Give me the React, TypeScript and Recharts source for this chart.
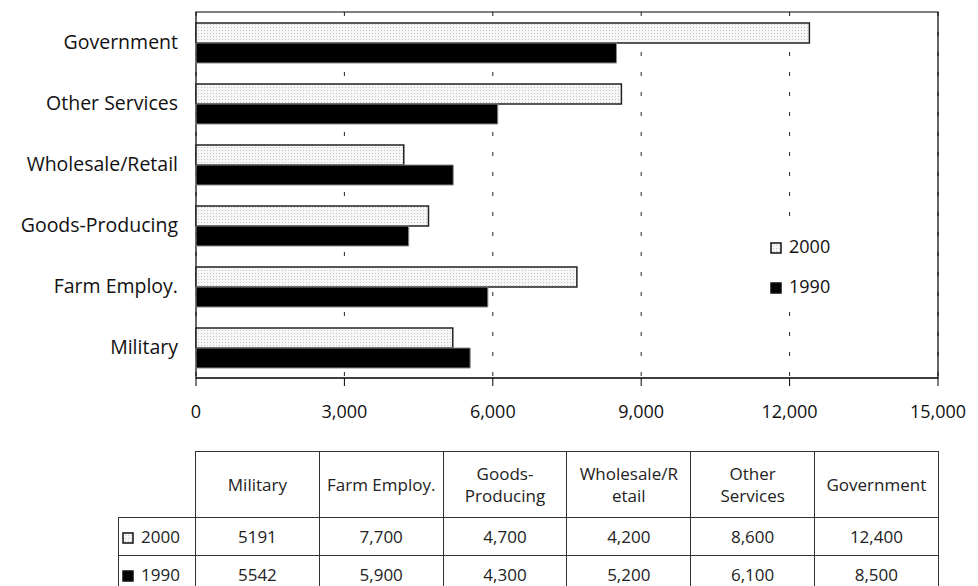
import { BarChart, Bar, XAxis, YAxis, CartesianGrid, Legend, ReferenceArea } from 'recharts'

// categories in table order (bottom to top in the chart)
const categories = ['Military', 'Farm Employ.', 'Goods-Producing', 'Wholesale/Retail', 'Other Services', 'Government']
const tableHeaders = [['Military'], ['Farm Employ.'], ['Goods-', 'Producing'], ['Wholesale/R', 'etail'], ['Other', 'Services'], ['Government']]
const values2000 = [5191, 7700, 4700, 4200, 8600, 12400]
const values1990 = [5542, 5900, 4300, 5200, 6100, 8500]
const xTicks = [0, 3000, 6000, 9000, 12000, 15000]
const bandTicks = [0, 1, 2, 3, 4, 5, 6]
const seriesNames = ['2000', '1990']

const FONT = '"Open Sans", Lato, sans-serif'
const HATCH = 'url(#hatch2000)'

// chart draws top-down, so flip the table order
const chartData = categories
  .map((name, i) => ({ name, y2000: values2000[i], y1990: values1990[i] }))
  .reverse()

const fmt = (v: number, col: number) => (col === 0 ? String(v) : v.toLocaleString('en-US'))

function HatchPattern({ id }: { id: string }) {
  return (
    <pattern id={id} width={3} height={3} patternUnits="userSpaceOnUse">
      <rect width={3} height={3} fill="#f7f7f7" />
      <rect width={1} height={1} fill="#c4c4c4" />
    </pattern>
  )
}

function Swatch({ hatched, id }: { hatched: boolean; id: string }) {
  return (
    <svg width={14} height={12} style={{ verticalAlign: '-1px', marginRight: 5 }}>
      <defs><HatchPattern id={id} /></defs>
      <rect x={1} y={1} width={10} height={10} fill={hatched ? `url(#${id})` : '#000'} stroke="#111" strokeWidth={1.5} />
    </svg>
  )
}

function LegendBox() {
  return (
    <div style={{ fontFamily: FONT, fontSize: 18, color: '#111', lineHeight: '40px', background: '#fff', padding: '0 4px' }}>
      <div><Swatch hatched id="lg0" />{seriesNames[0]}</div>
      <div><Swatch hatched={false} id="lg1" />{seriesNames[1]}</div>
    </div>
  )
}

const cell: React.CSSProperties = { border: '1px solid #333', textAlign: 'center', padding: 0 }

export default function App() {
  return (
    <div style={{ position: 'absolute', left: 0, top: 0, width: 978, height: 586, overflow: 'hidden', background: '#fff' }}>
      <BarChart
        width={978}
        height={428}
        data={chartData}
        layout="vertical"
        margin={{ top: 12, right: 40, bottom: 0, left: 0 }}
        barSize={20}
        barGap={0}
      >
        <defs>
          <HatchPattern id="hatch2000" />
        </defs>
        <CartesianGrid horizontal={false} stroke="#222" strokeDasharray="4 16" />
        <XAxis
          type="number"
          domain={[0, 15000]}
          ticks={xTicks}
          interval={0}
          tickFormatter={(v: number) => v.toLocaleString('en-US')}
          axisLine={{ stroke: '#000' }}
          tickLine={{ stroke: '#000' }}
          tickSize={8}
          tickMargin={19}
          height={50}
          tick={{ fill: '#111', fontSize: 18, fontFamily: FONT }}
        />
        <YAxis
          yAxisId="band"
          type="number"
          domain={[0, 6]}
          ticks={bandTicks}
          interval={0}
          tick={false}
          tickSize={9}
          tickLine={{ stroke: '#000' }}
          axisLine={{ stroke: '#000' }}
          width={0}
        />
        <YAxis
          type="category"
          dataKey="name"
          width={196}
          axisLine={false}
          tickLine={false}
          tickSize={8}
          tickMargin={10}
          interval={0}
          tick={{ fill: '#111', fontSize: 19.5, fontFamily: FONT }}
        />
        <Legend
          layout="horizontal"
          verticalAlign="middle"
          align="center"
          wrapperStyle={{ left: 766, top: 226, width: 80 }}
          content={() => <LegendBox />}
        />
        <Bar dataKey="y2000" name={seriesNames[0]} fill={HATCH} stroke="#222" strokeWidth={1.5} isAnimationActive={false} />
        <Bar dataKey="y1990" name={seriesNames[1]} fill="#000" stroke="#888" strokeWidth={1} isAnimationActive={false} />
        <ReferenceArea x1={0} x2={15000} fill="none" stroke="#000" strokeWidth={1.2} ifOverflow="visible" />
      </BarChart>

      <table
        style={{
          position: 'absolute',
          left: 118,
          top: 451,
          borderCollapse: 'collapse',
          tableLayout: 'fixed',
          width: 820,
          fontFamily: FONT,
          fontSize: 17,
          color: '#222',
        }}
      >
        <colgroup>
          <col style={{ width: 77 }} />
          {categories.map(c => <col key={c} style={{ width: 123.8 }} />)}
        </colgroup>
        <tbody>
          <tr style={{ height: 66 }}>
            <td style={{ ...cell, borderTop: 'none', borderLeft: 'none' }} />
            {tableHeaders.map((lines, i) => (
              <td key={i} style={{ ...cell, lineHeight: '22px' }}>
                {lines.map((l, j) => <div key={j}>{l}</div>)}
              </td>
            ))}
          </tr>
          <tr style={{ height: 38 }}>
            <td style={{ ...cell, textAlign: 'left', paddingLeft: 3, whiteSpace: 'nowrap' }}><Swatch hatched id="tb0" />{seriesNames[0]}</td>
            {values2000.map((v, i) => <td key={i} style={cell}>{fmt(v, i)}</td>)}
          </tr>
          <tr style={{ height: 38 }}>
            <td style={{ ...cell, textAlign: 'left', paddingLeft: 3, whiteSpace: 'nowrap' }}><Swatch hatched={false} id="tb1" />{seriesNames[1]}</td>
            {values1990.map((v, i) => <td key={i} style={cell}>{fmt(v, i)}</td>)}
          </tr>
        </tbody>
      </table>
    </div>
  )
}
